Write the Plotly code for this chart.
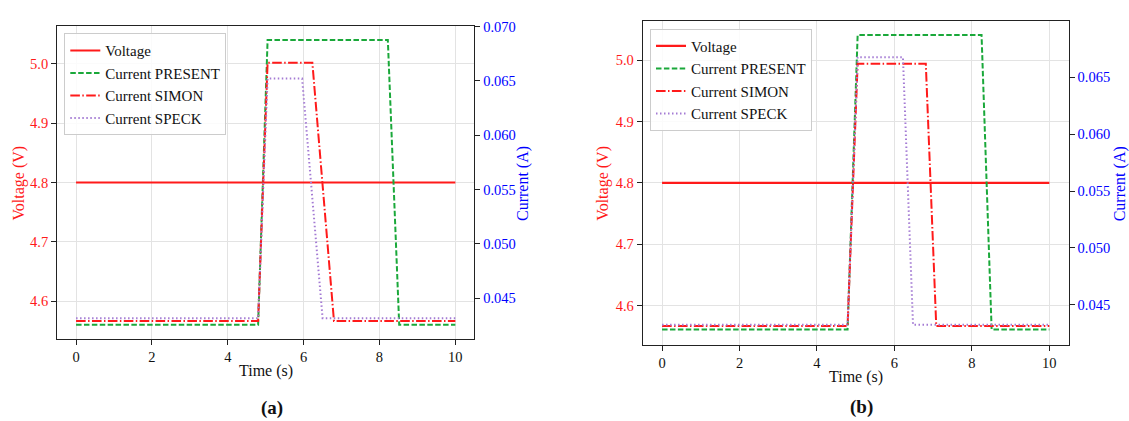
import plotly.graph_objects as go

# ---------------- data ----------------
# Panel (a)
time_v = [0, 10]
voltage_a = [4.8, 4.8]
t_present_a = [0, 4.80, 5.05, 8.22, 8.52, 10]
present_a = [0.04255, 0.04255, 0.06876, 0.06876, 0.04255, 0.04255]
t_simon_a = [0, 4.80, 5.05, 6.23, 6.80, 10]
simon_a = [0.04290, 0.04290, 0.06667, 0.06667, 0.04290, 0.04290]
t_speck_a = [0, 4.80, 5.05, 5.96, 6.50, 10]
speck_a = [0.04316, 0.04316, 0.06520, 0.06520, 0.04316, 0.04316]

# Panel (b)
voltage_b = [4.8, 4.8]
t_present_b = [0, 4.79, 5.05, 8.25, 8.51, 10]
present_b = [0.04282, 0.04282, 0.06872, 0.06872, 0.04282, 0.04282]
t_simon_b = [0, 4.79, 5.05, 6.81, 7.08, 10]
simon_b = [0.04313, 0.04313, 0.06621, 0.06621, 0.04313, 0.04313]
t_speck_b = [0, 4.79, 5.05, 6.22, 6.48, 10]
speck_b = [0.04324, 0.04324, 0.06678, 0.06678, 0.04324, 0.04324]

x_ticks = [0, 2, 4, 6, 8, 10]
labels = ["Voltage", "Current PRESENT", "Current SIMON", "Current SPECK"]

# ---------------- styles ----------------
FONT = "Liberation Serif"
RED = "#ff1a1a"
GREEN = "#1aa83a"
PURPLE = "#a47bd4"
BLUE = "#0000ff"
W, H = 1129, 421

styles = [
    dict(color=RED, width=2.2, dash="solid"),
    dict(color=GREEN, width=2, dash="5.5px,2.4px"),
    dict(color=RED, width=2, dash="9.6px,2.4px,1.5px,2.4px"),
    dict(color=PURPLE, width=2, dash="1.5px,2.5px"),
]

fig = go.Figure()

def add_panel(xa, ya_v, ya_c, legend, volt, series):
    fig.add_trace(go.Scatter(x=time_v, y=volt, mode="lines", name=labels[0],
                             line=styles[0], xaxis=xa, yaxis=ya_v, legend=legend))
    for i, (tt, vv) in enumerate(series, start=1):
        fig.add_trace(go.Scatter(x=tt, y=vv, mode="lines", name=labels[i],
                                 line=styles[i], xaxis=xa, yaxis=ya_c, legend=legend))

add_panel("x", "y", "y3", "legend", voltage_a,
          [(t_present_a, present_a), (t_simon_a, simon_a), (t_speck_a, speck_a)])
add_panel("x2", "y2", "y4", "legend2", voltage_b,
          [(t_present_b, present_b), (t_simon_b, simon_b), (t_speck_b, speck_b)])

def px_x(p):
    return p / W

def px_y(p):
    return (H - p) / H

common_x = dict(range=[-0.5, 10.5], tickmode="array", tickvals=x_ticks,
                ticks="outside", ticklen=5, tickwidth=1, tickcolor="#222",
                showline=True, linecolor="#222", linewidth=1, mirror=True,
                showgrid=True, gridcolor="#e3e3e3", gridwidth=1, zeroline=False,
                tickfont=dict(family=FONT, size=14.5, color="#111"))
common_yv = dict(range=[4.5364, 5.064], tickmode="linear", tick0=4.6, dtick=0.1,
                 tickformat=".1f", ticks="outside", ticklen=5, tickwidth=1, tickcolor="#222",
                 showline=True, linecolor="#222", linewidth=1, mirror=True,
                 showgrid=True, gridcolor="#e3e3e3", gridwidth=1, zeroline=False,
                 tickfont=dict(family=FONT, size=14.5, color=RED))
common_yc = dict(tickmode="linear", tick0=0.045, dtick=0.005, tickformat=".3f",
                 ticks="outside", ticklen=5, tickwidth=1, tickcolor="#222",
                 showline=True, linecolor="#222", linewidth=1, side="right",
                 showgrid=False, zeroline=False,
                 tickfont=dict(family=FONT, size=14.5, color=BLUE))

fig.update_layout(
    width=W, height=H,
    margin=dict(l=0, r=0, t=0, b=0),
    paper_bgcolor="white", plot_bgcolor="white",
    showlegend=True,
    xaxis=dict(domain=[px_x(57.1), px_x(474.3)], anchor="y", **common_x),
    yaxis=dict(domain=[px_y(337.7), px_y(19.0)], anchor="x", **common_yv),
    yaxis3=dict(overlaying="y", anchor="x", range=[0.04124, 0.07007], **common_yc),
    xaxis2=dict(domain=[px_x(642.7), px_x(1068.7)], anchor="y2", **common_x),
    yaxis2=dict(domain=[px_y(343.3), px_y(14.0)], anchor="x2", **common_yv),
    yaxis4=dict(overlaying="y2", anchor="x2", range=[0.04150, 0.06998], **common_yc),
    legend=dict(x=px_x(64.3), y=px_y(26.7), xanchor="left", yanchor="top",
                bgcolor="rgba(255,255,255,0.85)", bordercolor="#cccccc", borderwidth=1,
                font=dict(family=FONT, size=15, color="#111")),
    legend2=dict(x=px_x(650), y=px_y(22), xanchor="left", yanchor="top",
                 bgcolor="rgba(255,255,255,0.85)", bordercolor="#cccccc", borderwidth=1,
                 font=dict(family=FONT, size=15, color="#111")),
)

def ann(text, x, y, size=16, color="#111", angle=0, bold=False):
    fig.add_annotation(text=f"<b>{text}</b>" if bold else text,
                       x=px_x(x), y=px_y(y), xref="paper", yref="paper",
                       xanchor="center", yanchor="middle", showarrow=False,
                       textangle=angle, font=dict(family=FONT, size=size, color=color))

ann("Time (s)", 266, 370)
ann("Time (s)", 855.7, 376.7)
ann("Voltage (V)", 18.6, 179, color=RED, angle=-90)
ann("Voltage (V)", 602.8, 179, color=RED, angle=-90)
ann("Current (A)", 523, 180, color=BLUE, angle=-90)
ann("Current (A)", 1120.3, 180, color=BLUE, angle=-90)
ann("(a)", 272, 408, size=19, bold=True)
ann("(b)", 861, 407, size=19, bold=True)

fig.write_html(
    "out.html",
    config={"displayModeBar": False},
    post_script="document.body.style.margin='0';document.body.style.padding='0';"
                "document.body.style.overflow='hidden';",
)
